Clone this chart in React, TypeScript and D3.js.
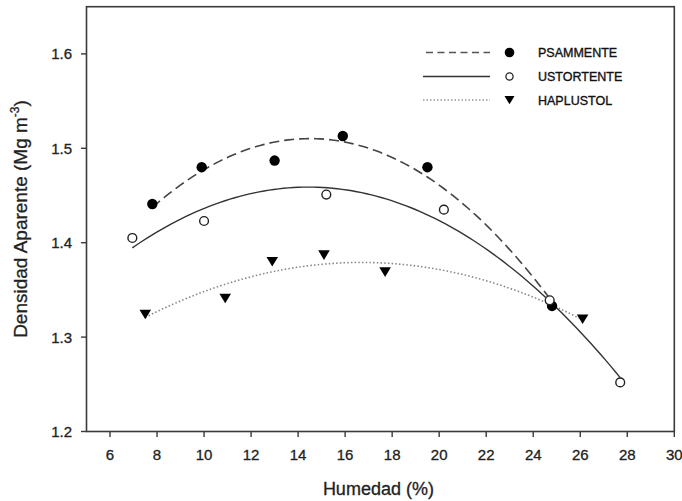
import React from "react";
import * as d3 from "d3";

const W = 682;
const H = 501;

const xTicks = [6, 8, 10, 12, 14, 16, 18, 20, 22, 24, 26, 28, 30];
const yTicks = [1.2, 1.3, 1.4, 1.5, 1.6];

const psamX = [7.8, 9.9, 13.0, 15.9, 19.5, 24.8];
const psamY = [1.441, 1.48, 1.487, 1.513, 1.48, 1.333];
const ustoX = [6.95, 10.0, 15.2, 20.2, 24.7, 27.7];
const ustoY = [1.405, 1.423, 1.451, 1.435, 1.339, 1.252];
const hapX = [7.5, 10.9, 12.9, 15.1, 17.7, 26.1];
const hapY = [1.324, 1.341, 1.38, 1.387, 1.369, 1.319];

const seriesNames = ["PSAMMENTE", "USTORTENTE", "HAPLUSTOL"];

function quadFit(xs: number[], ys: number[]) {
  // least squares y = a + b x + c x^2
  const n = xs.length;
  let s1 = 0, s2 = 0, s3 = 0, s4 = 0, t0 = 0, t1 = 0, t2 = 0;
  for (let i = 0; i < n; i++) {
    const x = xs[i], y = ys[i];
    s1 += x; s2 += x * x; s3 += x * x * x; s4 += x * x * x * x;
    t0 += y; t1 += x * y; t2 += x * x * y;
  }
  const M = [
    [n, s1, s2, t0],
    [s1, s2, s3, t1],
    [s2, s3, s4, t2],
  ];
  for (let i = 0; i < 3; i++) {
    for (let k = i + 1; k < 3; k++) {
      const f = M[k][i] / M[i][i];
      for (let j = i; j < 4; j++) M[k][j] -= f * M[i][j];
    }
  }
  const c = M[2][3] / M[2][2];
  const b = (M[1][3] - M[1][2] * c) / M[1][1];
  const a = (M[0][3] - M[0][1] * b - M[0][2] * c) / M[0][0];
  return (x: number) => a + b * x + c * x * x;
}

export default function App() {
  const left = 86.5, right = 674.3, top = 6.7, bottom = 431.5;
  const x = d3.scaleLinear().domain([5, 30]).range([left, right]);
  const y = d3.scaleLinear().domain([1.2, 1.65]).range([bottom, top]);

  const curve = (xs: number[], ys: number[]) => {
    const f = quadFit(xs, ys);
    const [lo, hi] = d3.extent(xs) as [number, number];
    const pts = d3.range(0, 101).map((i) => lo + ((hi - lo) * i) / 100);
    return d3
      .line<number>()
      .x((v) => x(v))
      .y((v) => y(f(v)))(pts) as string;
  };

  const tri = (cx: number, cy: number, s: number) =>
    `M${cx - s},${cy - s * 0.8}L${cx + s},${cy - s * 0.8}L${cx},${cy + s * 0.85}Z`;

  const font = "'Liberation Sans', Arial, sans-serif";
  const axisColor = "#3a3a3a";
  const txt = { fill: "#222", stroke: "#222", strokeWidth: 0.3 };

  const legendRows = [52.5, 76.5, 100];

  return (
    <svg
      width={W}
      height={H}
      style={{ position: "absolute", left: 0, top: 0, background: "#fff" }}
      fontFamily={font}
    >
      {/* curves */}
      <path d={curve(psamX, psamY)} fill="none" stroke="#444" strokeWidth={1.6} strokeDasharray="10,5" />
      <path d={curve(ustoX, ustoY)} fill="none" stroke="#333" strokeWidth={1.4} />
      <path d={curve(hapX, hapY)} fill="none" stroke="#888" strokeWidth={1.6} strokeDasharray="1.5,2.2" />

      {/* markers */}
      {psamX.map((v, i) => (
        <circle key={"p" + i} cx={x(v)} cy={y(psamY[i])} r={5.2} fill="#000" />
      ))}
      {ustoX.map((v, i) => (
        <circle key={"u" + i} cx={x(v)} cy={y(ustoY[i])} r={4.4} fill="#fff" stroke="#222" strokeWidth={1.4} />
      ))}
      {hapX.map((v, i) => (
        <path key={"h" + i} d={tri(x(v), y(hapY[i]), 5.8)} fill="#000" />
      ))}

      {/* frame */}
      <rect x={left} y={top} width={right - left} height={bottom - top} fill="none" stroke={axisColor} strokeWidth={1.6} />

      {/* x ticks */}
      {xTicks.map((t) => (
        <g key={"xt" + t}>
          <line x1={x(t)} x2={x(t)} y1={bottom} y2={bottom + 5.5} stroke={axisColor} strokeWidth={1.4} />
          <text x={x(t)} y={460} textAnchor="middle" fontSize={15} {...txt}>
            {t}
          </text>
        </g>
      ))}
      {/* y ticks */}
      {yTicks.map((t) => (
        <g key={"yt" + t}>
          <line x1={left - 5.5} x2={left} y1={y(t)} y2={y(t)} stroke={axisColor} strokeWidth={1.4} />
          <text x={72} y={y(t)} dy="0.36em" textAnchor="end" fontSize={15} {...txt}>
            {t.toFixed(1)}
          </text>
        </g>
      ))}

      {/* axis titles */}
      <text x={(left + right) / 2 - 2} y={495} textAnchor="middle" fontSize={18} {...txt}>
        Humedad (%)
      </text>
      <text transform={`translate(27,219) rotate(-90)`} textAnchor="middle" fontSize={19} {...txt}>
        Densidad Aparente (Mg m
        <tspan dy={-8} fontSize={12}>-3</tspan>
        <tspan dy={8}>)</tspan>
      </text>

      {/* legend */}
      <line x1={426} x2={490} y1={legendRows[0]} y2={legendRows[0]} stroke="#555" strokeWidth={1.5} strokeDasharray="7,4.5" />
      <line x1={423} x2={490} y1={legendRows[1]} y2={legendRows[1]} stroke="#333" strokeWidth={1.4} />
      <line x1={423} x2={490} y1={legendRows[2]} y2={legendRows[2]} stroke="#999" strokeWidth={1.5} strokeDasharray="1.5,2" />
      <circle cx={509.5} cy={legendRows[0]} r={4.8} fill="#000" />
      <circle cx={509.5} cy={legendRows[1]} r={3.6} fill="#fff" stroke="#222" strokeWidth={1.3} />
      <path d={tri(509.5, legendRows[2], 5)} fill="#000" />
      {seriesNames.map((s, i) => (
        <text key={s} x={538} y={legendRows[i]} dy="0.36em" fontSize={12.5} fill="#111" stroke="#111" strokeWidth={0.35}>
          {s}
        </text>
      ))}
    </svg>
  );
}
